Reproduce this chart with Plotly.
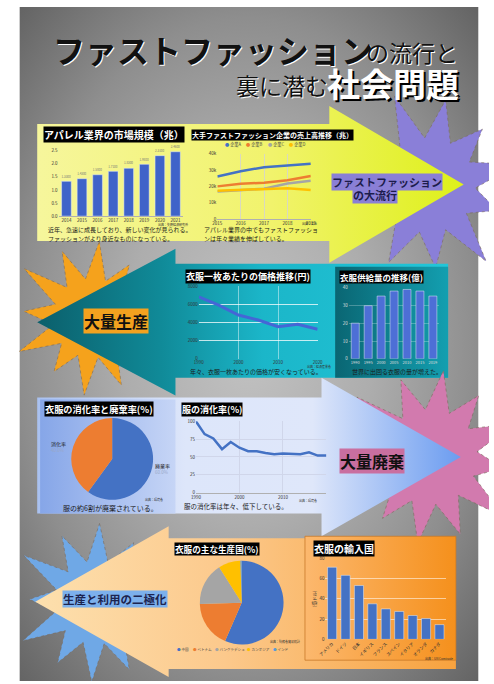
import math
import plotly.graph_objects as go

W, H = 494, 684
JP = "Noto Sans CJK JP"

# ---------------- data ----------------
market_years = ["2014", "2015", "2016", "2017", "2018", "2019", "2020", "2021"]
market_size = [1.33, 1.43, 1.58, 1.71, 1.83, 1.98, 2.31, 2.46]

sales_years = [2015, 2016, 2017, 2018, 2019]
company_names = ["企業A", "企業B", "企業C", "企業D"]
sales_a = [26000, 29300, 31700, 32900, 33900]
sales_b = [20000, 21600, 22200, 23800, 26300]
sales_c = [16800, 17600, 18600, 21800, 23400]
sales_d = [17400, 17800, 18400, 18800, 17800]
company_colors = ["#4472c4", "#ed7d31", "#a5a5a5", "#ffc000"]

price_years = [1990, 1995, 2000, 2005, 2010, 2015, 2020]
price_yen = [6840, 5930, 4840, 4290, 3560, 3820, 3270]

supply_years = ["1990", "1995", "2000", "2005", "2010", "2015", "2019"]
supply_oku = [20.0, 29.8, 35.2, 38.0, 38.9, 38.0, 35.2]

disposal_labels = ["廃棄率", "消化率"]
disposal_pct = [60.0, 40.0]

sell_years = [1990, 1992, 1994, 1996, 1998, 2000, 2002, 2004, 2006, 2008,
              2010, 2012, 2014, 2016, 2018, 2020]
sell_rate = [100, 82, 76, 61, 71, 63, 58, 58, 55.5, 54, 55, 55, 54, 56.5, 52, 52]

prod_countries = ["中国", "ベトナム", "バングラデシュ", "カンボジア", "インド"]
prod_pct = [56.5, 18.0, 16.5, 8.5, 0.5]
prod_colors = ["#4472c4", "#ed7d31", "#a5a5a5", "#ffc000", "#5b9bd5"]

import_countries = ["アメリカ", "ドイツ", "日本", "イギリス", "フランス",
                    "スペイン", "イタリア", "オランダ", "カナダ"]
import_values = [71, 63, 53, 35, 30, 27.5, 23.5, 20.5, 14.5]

# ---------------- helpers ----------------
fig = go.Figure()


def dx(a, b):
    return [a / W, b / W]


def dy(top, bottom):
    return [1 - bottom / H, 1 - top / H]


def poly(pts, colors, gtype="horizontal", line=None):
    xs = [p[0] for p in pts] + [pts[0][0]]
    ys = [p[1] for p in pts] + [pts[0][1]]
    kw = {}
    if isinstance(colors, str):
        kw["fillcolor"] = colors
    else:
        kw["fillgradient"] = dict(type=gtype, colorscale=colors)
    fig.add_trace(go.Scatter(
        x=xs, y=ys, mode="lines", fill="toself",
        line=line if line else dict(width=0),
        hoverinfo="skip", showlegend=False, xaxis="x", yaxis="y", **kw))


def star(cx, cy, ro, ri, n, rot=0.0, jit=None):
    pts = []
    for i in range(2 * n):
        a = rot + math.pi * i / n
        r = ro if i % 2 == 0 else ri
        if jit:
            r *= jit[i % len(jit)]
        pts.append((cx + r * math.sin(a), cy - r * math.cos(a)))
    return pts


def label(x, y, text, size, color="#111111", bg=None, xanchor="left",
          bold=False, shadow=None, yanchor="middle", textangle=0):
    fig.add_annotation(
        x=x, y=y, xref="x", yref="y", text=text, showarrow=False,
        xanchor=xanchor, yanchor=yanchor, textangle=textangle,
        font=dict(family=JP, size=size, color=color,
                  weight=700 if bold else 400,
                  shadow=shadow if shadow else "none"),
        bgcolor=bg if bg else "rgba(0,0,0,0)", borderpad=0)


def legend_row(x0, y, names, colors, size):
    x = x0
    for name, col in zip(names, colors):
        label(x, y, f'<span style="color:{col}">●</span> {name}', size, color="#444444")
        x += (len(name) + 1.6) * size + 2.5


dash_line = dict(width=0.6, color="#7a6a5a", dash="dot")

# ---------------- background ----------------
# oversized radial gradient, then white page margins on top of it
poly([(-120, -170), (614, -170), (614, 860), (-120, 860)],
     [[0, "#c2c2c2"], [0.35, "#adadad"], [0.64, "#8e8e8e"], [0.93, "#626262"], [1, "#5a5a5a"]],
     gtype="radial")
poly([(0, 0), (12, 0), (12, H), (0, H)], "#ffffff")
poly([(0, 0), (W, 0), (W, 4), (0, 4)], "#ffffff")
poly([(483, 0), (W, 0), (W, H), (483, H)], "#ffffff")

# section 1 : purple star + yellow arrow
poly(star(432, 184, 88, 48, 11, 0.2, [1, 1, 0.9, 1, 1.05, 1, 0.85, 1, 1.1, 1, 0.95, 1]),
     "#8a7fd8", line=dash_line)
poly([(30, 122), (330, 122), (330, 104), (468, 183), (330, 262), (330, 240), (30, 240)],
     [[0, "#f6f69c"], [0.55, "#f1f36c"], [1, "#def01a"]])

# section 2 : orange star + teal arrow
poly(star(86, 318, 78, 40, 12, 0.1, [1, 1, 0.85, 1, 1.05, 1, 0.9, 1, 1.1, 1, 0.95, 1]),
     "#f5a21c", line=dash_line)
poly([(452, 263), (172, 263), (172, 248), (30, 322), (172, 396), (172, 378), (452, 378)],
     [[0, "#0b5f6b"], [0.3, "#108a98"], [0.55, "#1bb6c9"], [1, "#22c6d8"]])
poly([(336, 266), (452, 266), (452, 378), (336, 378)],
     [[0, "#0a6673"], [1, "#139fb0"]])

# section 3 : pink star + light-blue arrow
poly(star(434, 458, 88, 48, 12, 0.15, [1, 1, 0.9, 1, 1.05, 1, 0.85, 1, 1.1, 1, 0.95, 1]),
     "#d27aae", line=dash_line)
poly([(30, 398), (322, 398), (322, 378), (465, 458), (322, 538), (322, 515), (30, 515)],
     [[0, "#a9c1f0"], [0.35, "#dde6fa"], [0.65, "#dfe7fa"], [1, "#6b9cf0"]])
poly([(33, 400), (172, 400), (172, 515), (33, 515)],
     [[0, "#86a6e8"], [1, "#c6d5f6"]])

# section 4 : blue star + orange arrow
poly(star(90, 605, 80, 42, 12, 0.05, [1, 1, 0.9, 1, 1.05, 1, 0.85, 1, 1.1, 1, 0.95, 1]),
     "#6fa8e6", line=dash_line)
poly([(460, 540), (165, 540), (165, 528), (28, 604), (165, 680), (165, 672), (460, 672)],
     [[0, "#fde0ae"], [0.45, "#fcc98c"], [1, "#f7a23e"]])
poly([(305, 538), (460, 538), (460, 663), (305, 663)],
     [[0, "#fcb86e"], [1, "#f5901c"]], line=dict(width=0.8, color="#c87a2a"))

# ---------------- charts ----------------
tick = dict(family=JP, size=4.5, color="#333333")

# chart 1: market size bars
fig.add_trace(go.Bar(
    x=market_years, y=market_size, xaxis="x2", yaxis="y2", width=0.62,
    marker=dict(color="#3f63c9"), texttemplate="%{y:.4f}",
    textposition="outside", cliponaxis=False,
    textfont=dict(family=JP, size=4, color="#777777"), showlegend=False))

# chart 2: company sales lines
for name, vals, col in zip(company_names, [sales_a, sales_b, sales_c, sales_d], company_colors):
    fig.add_trace(go.Scatter(
        x=sales_years, y=vals, mode="lines", name=name, xaxis="x3", yaxis="y3",
        line=dict(color=col, width=2.5), showlegend=False))

# chart 3: price per garment
fig.add_trace(go.Scatter(
    x=price_years, y=price_yen, mode="lines", xaxis="x4", yaxis="y4",
    line=dict(color="#4466d6", width=3), showlegend=False))

# chart 4: supply bars
fig.add_trace(go.Bar(
    x=supply_years, y=supply_oku, xaxis="x5", yaxis="y5", width=0.62,
    marker=dict(color="#4d6fd6"), showlegend=False))

# chart 5: disposal pie
fig.add_trace(go.Pie(
    labels=disposal_labels, values=disposal_pct, sort=False, direction="clockwise",
    rotation=0, textinfo="none", marker=dict(colors=["#4472c4", "#ed7d31"], line=dict(width=0)),
    domain=dict(x=dx(65, 149), y=dy(418, 502)), showlegend=False))

# chart 6: sell-through rate
fig.add_trace(go.Scatter(
    x=sell_years, y=sell_rate, mode="lines", xaxis="x6", yaxis="y6",
    line=dict(color="#4472c4", width=2.5), showlegend=False))

# chart 7: production countries pie
fig.add_trace(go.Pie(
    labels=prod_countries, values=prod_pct, sort=False, direction="clockwise",
    rotation=0, textinfo="none", marker=dict(colors=prod_colors, line=dict(width=0)),
    domain=dict(x=dx(197, 283), y=dy(562, 648)), showlegend=False))

# chart 8: import countries bars
fig.add_trace(go.Bar(
    x=import_countries, y=import_values, xaxis="x7", yaxis="y7", width=0.68,
    marker=dict(color="#4472c4"), showlegend=False))

# ---------------- axes ----------------
def xa(dom, anchor, **kw):
    d = dict(domain=dom, anchor=anchor, showgrid=False, zeroline=False, ticks="",
             tickfont=tick, fixedrange=True, showline=False)
    d.update(kw)
    return d


layout_axes = dict(
    xaxis=dict(domain=[0, 1], range=[0, W], visible=False, fixedrange=True),
    yaxis=dict(domain=[0, 1], range=[H, 0], visible=False, fixedrange=True),
    xaxis2=xa(dx(52, 180), "y2", type="category", showline=True, linecolor="#b0b0b0", linewidth=0.6),
    yaxis2=xa(dy(149, 215), "x2", range=[0, 2.5], dtick=0.5, tickformat=".1f"),
    xaxis3=xa(dx(215, 311), "y3", range=[2015, 2019], tickvals=sales_years,
              showgrid=True, gridcolor="#d9d9c0", gridwidth=0.6, showline=True,
              linecolor="#b0b0b0", linewidth=0.6),
    yaxis3=xa(dy(152, 218), "x3", range=[0, 40000], dtick=10000),
    xaxis4=xa(dx(196, 318), "y4", range=[1990, 2020], tickvals=[1990, 2000, 2010, 2020],
              showgrid=True, gridcolor="rgba(255,255,255,0.45)", gridwidth=0.6),
    yaxis4=xa(dy(286, 359), "x4", range=[0, 8000], dtick=2000, showgrid=True,
              gridcolor="rgba(255,255,255,0.75)", gridwidth=0.7),
    xaxis5=xa(dx(350, 443), "y5", type="category",
              tickfont=dict(family=JP, size=4, color="#dddddd")),
    yaxis5=xa(dy(287, 359), "x5", range=[0, 40], dtick=10, showgrid=True,
              gridcolor="rgba(255,255,255,0.25)", gridwidth=0.6,
              tickfont=dict(family=JP, size=4.5, color="#dddddd")),
    xaxis6=xa(dx(193, 327), "y6", range=[1990, 2020], tickvals=[1990, 2000, 2010],
              showgrid=True, gridcolor="#d0d6ea", gridwidth=0.6, showline=True,
              linecolor="#b0b0b0", linewidth=0.6),
    yaxis6=xa(dy(422, 494), "x6", range=[0, 100], dtick=25, showgrid=True,
              gridcolor="#d0d6ea", gridwidth=0.6),
    xaxis7=xa(dx(326, 450), "y7", type="category", tickangle=-45,
              tickfont=dict(family=JP, size=4.5, color="#333333")),
    yaxis7=xa(dy(560, 642), "x7", range=[0, 80], dtick=20, showgrid=True,
              gridcolor="rgba(255,255,255,0.55)", gridwidth=0.6,
              title=dict(text="(億ドル)", font=dict(family=JP, size=4.5, color="#333333"), standoff=2)),
)

# ---------------- texts ----------------
# main title
label(45, 46, "ファストファッション", 32, color="#111111", bold=True, shadow="1px 1px 0px #ffffff")
label(367, 49, "の流行と", 23, color="#111111", shadow="1px 1px 0px #ffffff")
label(233, 83, "裏に潜む", 23, color="#111111", shadow="1px 1px 0px #ffffff")
label(327, 81, "社会問題", 33, color="#ffffff", bold=True, shadow="2px 2px 0px #000000")

# section labels
label(332, 181, "ファストファッション", 11, color="#1c1c4c", bg="#8a7fd6", bold=True)
label(353, 194, "の大流行", 11, color="#1c1c4c", bg="#8a7fd6", bold=True)
label(77, 321, "大量生産", 16, color="#111111", bg="#f3a21f", bold=True)
label(340, 462, "大量廃棄", 16, color="#111111", bg="#c96fa0", bold=True)
label(55, 601, "生産と利用の二極化", 11.5, color="#1c2450", bg="#7cb0ec", bold=True)

# chart titles
label(36, 133, "アパレル業界の市場規模（兆）", 10, color="#ffffff", bg="#000000", bold=True)
label(188, 133, "大手ファストファッション企業の売上高推移（兆）", 7, color="#ffffff", bg="#000000", bold=True)
label(182, 276, "衣服一枚あたりの価格推移(円)", 9, color="#ffffff", bg="#000000", bold=True)
label(340, 276, "衣服供給量の推移(億)", 8.5, color="#ffffff", bg="#000000", bold=True)
label(37, 410, "衣服の消化率と廃棄率(%)", 9.2, color="#ffffff", bg="#000000", bold=True)
label(178, 410, "服の消化率(%)", 9, color="#ffffff", bg="#000000", bold=True)
label(170, 551, "衣服の主な生産国(%)", 8.6, color="#ffffff", bg="#000000", bold=True)
label(313, 550, "衣服の輸入国", 10, color="#ffffff", bg="#000000", bold=True)

# legends
legend_row(222, 143, company_names, company_colors, 4.2)
legend_row(173, 652, prod_countries, prod_colors, 3.6)

# pie labels chart 5
label(43, 445, "消化率", 5, color="#222222")
label(43, 451, "40.0%", 4.5, color="#9aa8c8")
label(150, 467, "廃棄率", 5, color="#222222")
label(150, 473, "60.0%", 4.5, color="#9aa8c8")

# captions
label(40, 229, "近年、急速に成長しており、新しい変化が見られる。", 6, color="#1a1a1a")
label(40, 238, "ファッションがより身近なものになっている。", 6, color="#1a1a1a")
label(200, 229, "アパレル業界の中でもファストファッショ", 6, color="#1a1a1a")
label(200, 238, "ンは年々業績を伸ばしている。", 6, color="#1a1a1a")
label(186, 372, "年々、衣服一枚あたりの価格が安くなっている。", 6, color="#1a1a1a")
label(352, 372, "世界に出回る衣服の量が増えた。", 6, color="#1a1a1a")
label(55, 509, "服の約6割が廃棄されている。", 7, color="#1a1a1a")
label(180, 507, "服の消化率は年々、低下している。", 6.5, color="#1a1a1a")

# sources
label(186, 223, "出典：矢野経済研究所", 3.0, color="#333333", xanchor="right")
label(318, 222.5, "出典：各社", 3.0, color="#333333", xanchor="right")
label(333, 367, "出典：経済産業省", 3.0, color="#333333", xanchor="right")
label(140, 501, "出典：環境省", 3, color="#333333")
label(298, 502, "出典：環境省", 3.0, color="#333333")
label(268, 644, "出典：財務省貿易統計", 3.0, color="#333333")
label(427, 661, "出典：UN Comtrade", 3.0, color="#333333")

fig.update_layout(
    width=W, height=H, margin=dict(l=0, r=0, t=0, b=0),
    paper_bgcolor="#ffffff", plot_bgcolor="rgba(0,0,0,0)",
    showlegend=False, bargap=0.3,
    **layout_axes)

fig.write_html("out.html")
